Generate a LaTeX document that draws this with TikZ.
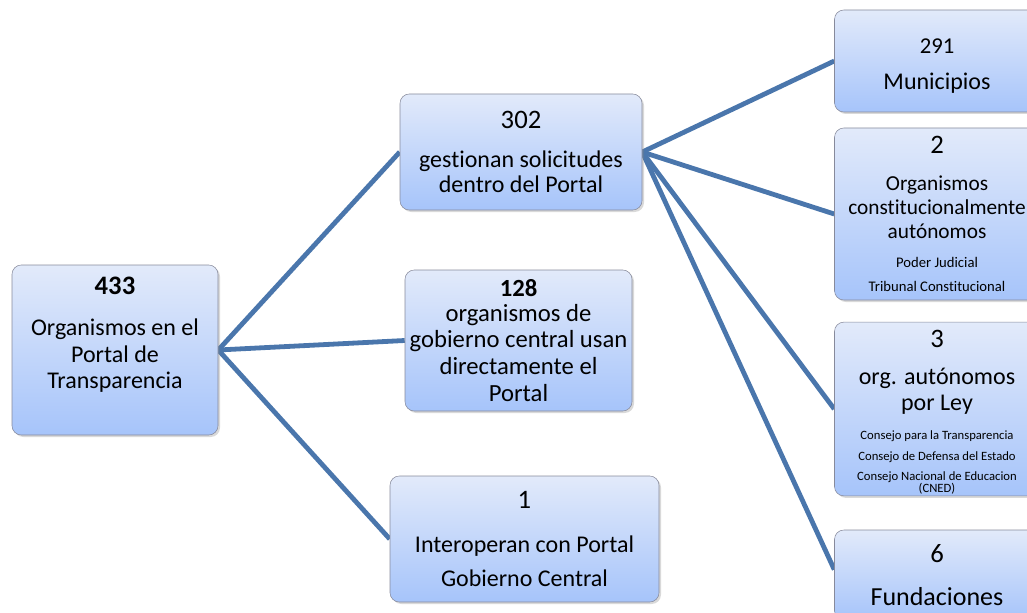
\documentclass[tikz,border=0pt]{standalone}
\usepackage{fontspec}
\setmainfont{Carlito}[Ligatures=NoCommon]
\usetikzlibrary{shadows,backgrounds}

\definecolor{linkblue}{RGB}{74,118,172}
\definecolor{boxtop}{RGB}{226,234,250}
\definecolor{boxbottom}{RGB}{166,196,250}
\definecolor{boxline}{RGB}{135,138,155}
\newcommand{\txtsize}[2]{\fontsize{#1}{#2}\selectfont}

\begin{document}
\begin{tikzpicture}[x=0.75pt,y=-0.75pt,
    box/.style={draw=boxline,thin,rounded corners=7pt,
        top color=boxtop,bottom color=boxbottom,align=center,inner sep=1pt,
        drop shadow={opacity=0.3,shadow xshift=1.5pt,shadow yshift=-1.5pt}},
    rightbox/.style={box,minimum width=153.75pt},
    link/.style={draw=linkblue,line width=3.6pt}]
\useasboundingbox (0,0) rectangle (1027,613);
\clip (0,0) rectangle (1027,613);

% left
\node[box,minimum width=154.5pt,minimum height=127.5pt,font=\txtsize{18}{20}] (o433) at (115,350)
    {{\txtsize{20}{20}\bfseries 433}\\[11pt]Organismos en el\\Portal de\\Transparencia\\[6pt]\mbox{}};

% middle
\node[box,minimum width=181.5pt,minimum height=87pt,font=\txtsize{18}{19}] (g302) at (521,152)
    {{\txtsize{20}{19}302}\\[10pt]gestionan solicitudes\\dentro del Portal};
\node[box,minimum width=170.25pt,minimum height=105.75pt,font=\txtsize{18.5}{20}] (c128) at (518.5,340.5)
    {{\bfseries 128}\\[-1.5pt]organismos de\\gobierno central usan\\directamente el\\Portal};
\node[box,minimum width=201.75pt,minimum height=94.5pt,font=\txtsize{18}{26}] (i1) at (524.5,539)
    {{\txtsize{20}{26}1}\\[7pt]Interoperan con Portal\\Gobierno Central};

% right
\node[rightbox,minimum height=76.5pt,font=\txtsize{18}{27}] (m291) at (937,61)
    {\mbox{}\\[-8.5pt]{\txtsize{17}{27}291}\\Municipios};
\node[rightbox,minimum height=129pt,font=\txtsize{16}{18}] (o2) at (937,214)
    {{\txtsize{20}{18}2}\\[10pt]Organismos\\constitucionalmente\\autónomos\\[4pt]
     {\txtsize{11}{13}Poder Judicial}\\{\txtsize{11}{13}Tribunal Constitucional}};
\node[rightbox,minimum height=129pt,font=\txtsize{18}{19.5}] (o3) at (937,409)
    {\mbox{}\\[-1.5pt]{\txtsize{20}{19.5}3}\\[8pt]org. autónomos\\por Ley\\[2.5pt]
     {\txtsize{9.5}{11}Consejo para la Transparencia}\\[-4pt]
     {\txtsize{9.5}{11}Consejo de Defensa del Estado}\\[-4pt]
     {\txtsize{9.5}{11}Consejo Nacional de Educacion}\\[-10.5pt]
     {\txtsize{9.5}{11}(CNED)}};
\node[rightbox,minimum height=67.5pt,font=\txtsize{19.5}{32}] (f6) at (937,575)
    {{\txtsize{20}{32}6}\\Fundaciones};

\begin{scope}[on background layer]
\draw[link] (o433.east) -- (g302.west);
\draw[link] (o433.east) -- (c128.west);
\draw[link] (o433.east) -- (i1.west);
\foreach \t in {m291,o2,o3}
    \draw[link] (g302.east) -- (\t.west);
\draw[link] (g302.east) -- (f6.177);
\end{scope}
\end{tikzpicture}
\end{document}
